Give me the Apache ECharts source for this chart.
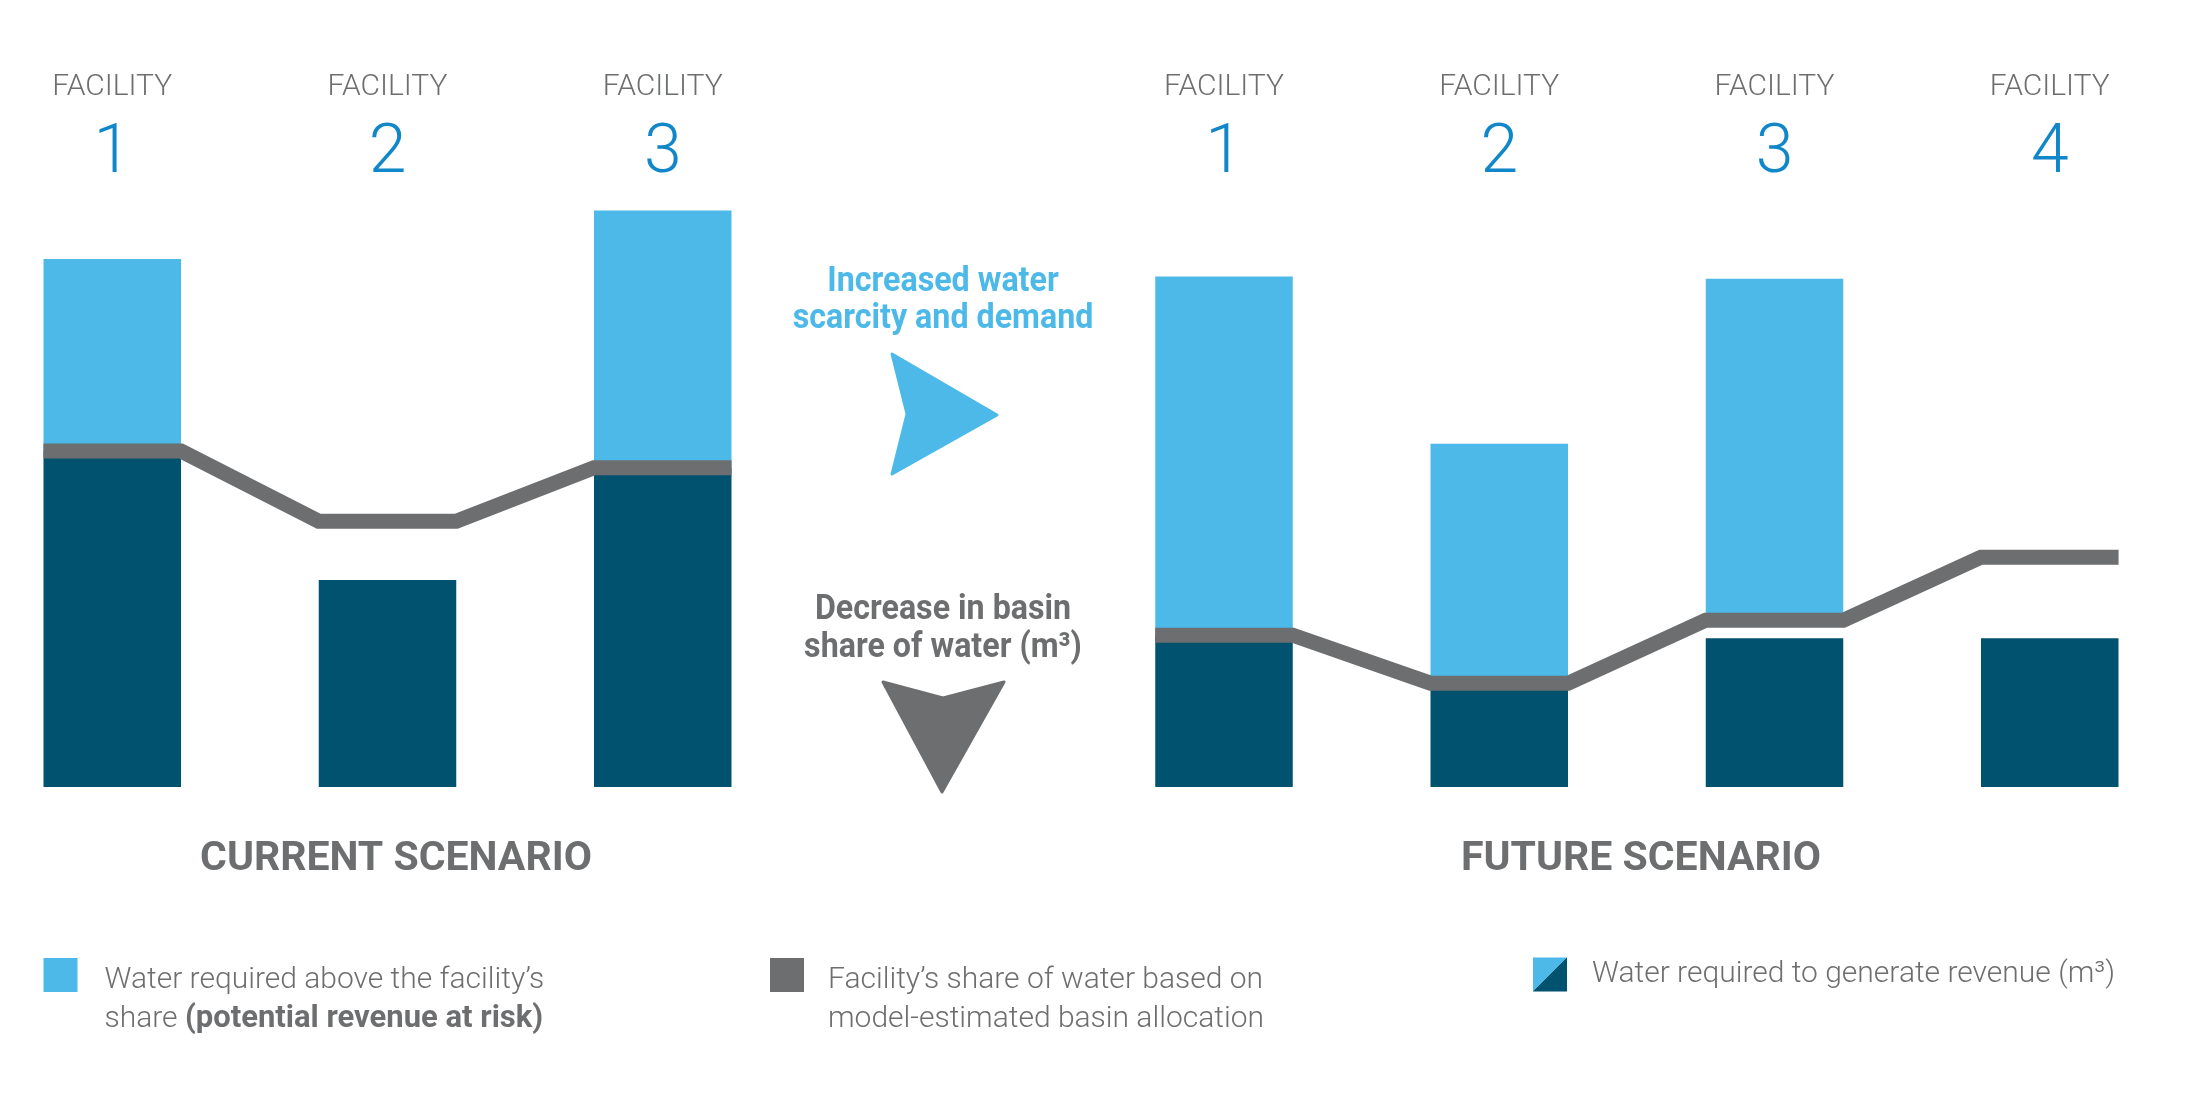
<!DOCTYPE html>
<html>
<head>
<meta charset="utf-8">
<title>Current vs future scenario</title>
<script src="https://cdn.jsdelivr.net/npm/echarts@6/dist/echarts.min.js"></script>
<style>
  html, body { margin: 0; padding: 0; background: #fff; }
  #chart { width: 2200px; height: 1100px; }
</style>
</head>
<body>
<div id="chart"></div>
<script>
const currentFacilities = ['1', '2', '3'];
const futureFacilities = ['1', '2', '3', '4'];

// water required to generate revenue (dark bars)
const currentRevenue = [56, 34.5, 53.2];
const futureRevenue = [25.3, 17.3, 24.8, 24.8];
// facility's share of water from the basin allocation (grey line)
const currentShare = [56, 44.3, 53.2];
const futureShare = [25.3, 17.3, 27.8, 38.3];
// top of the light bars, null where nothing is at risk
const currentRequired = [88, null, 96.1];
const futureRequired = [85.1, 57.2, 84.7, null];

const LIGHT = '#4cb9e9';
const DARK = '#00526f';
const GREY = '#6d6e70';
const NUM_BLUE = '#1187c9';

const riskName = 'Water required above the facility’s share (potential revenue at risk)';
const shareName = 'Facility’s share of water based on model-estimated basin allocation';
const revName = 'Water required to generate revenue (m³)';

const BAR_W = 137.5;
const STEP = 275.25;   // px between facility centres
const TOP = 187, HEIGHT = 600;

function riskBase(required, share) {
  return required.map((r, i) => r == null ? '-' : share[i]);
}
function riskPart(required, share) {
  return required.map((r, i) => r == null ? '-' : +(r - share[i]).toFixed(2));
}
// flat across each bar, sloped between bars
function shareSteps(share) {
  let pts = [];
  share.forEach((v, i) => { pts.push([i - 0.25, v], [i + 0.25, v]); });
  return pts;
}

function facilityAxis(gridIndex, cats) {
  return {
    type: 'category', gridIndex: gridIndex, data: cats, position: 'top', boundaryGap: false,
    axisLine: { show: false }, axisTick: { show: false }, splitLine: { show: false },
    axisLabel: {
      interval: 0, margin: 7,
      formatter: v => '{a|FACILITY}\n{b|' + v + '}',
      rich: {
        a: { fontFamily: 'Roboto', fontWeight: 300, fontSize: 30, color: GREY, lineHeight: 85, align: 'center' },
        b: { fontFamily: 'Roboto', fontWeight: 300, fontSize: 68, color: NUM_BLUE, lineHeight: 50, align: 'center' }
      }
    }
  };
}
// line grid runs from the left edge of the first bar to the right edge of the last
function stepAxis(gridIndex, n) {
  return { type: 'value', gridIndex: gridIndex, min: -0.25, max: n - 0.75, show: false };
}
function valueAxis(gridIndex) {
  return { type: 'value', gridIndex: gridIndex, min: 0, max: 100, show: false };
}

function scenarioSeries(barIdx, lineIdx, stackId, revenue, share, required) {
  return [
    { type: 'bar', name: revName, xAxisIndex: barIdx, yAxisIndex: barIdx, data: revenue, clip: false,
      barWidth: BAR_W, barGap: '-100%', itemStyle: { color: DARK }, z: 2 },
    { type: 'bar', xAxisIndex: barIdx, yAxisIndex: barIdx, stack: stackId, data: riskBase(required, share), clip: false,
      barWidth: BAR_W, barGap: '-100%', itemStyle: { color: 'rgba(0,0,0,0)' }, silent: true, z: 2 },
    { type: 'bar', name: riskName, xAxisIndex: barIdx, yAxisIndex: barIdx, stack: stackId, data: riskPart(required, share), clip: false,
      barWidth: BAR_W, barGap: '-100%', itemStyle: { color: LIGHT }, z: 2 },
    { type: 'line', name: shareName, xAxisIndex: lineIdx, yAxisIndex: lineIdx, data: shareSteps(share),
      symbol: 'none', lineStyle: { width: 15, color: GREY, join: 'miter', cap: 'butt' },
      itemStyle: { color: GREY }, z: 3 }
  ];
}

const legendText = { fontFamily: 'Roboto', fontWeight: 300, fontSize: 30, color: GREY, lineHeight: 39 };
const legendBold = { fontFamily: 'Roboto', fontWeight: 'bold', fontSize: 31, color: GREY, lineHeight: 39 };
const noteStyle = { fontFamily: 'Roboto', fontWeight: 'bold', fontSize: 35, align: 'center', verticalAlign: 'middle' };

const curLeft = 112.25, futLeft = 1224;

const chart = echarts.init(document.getElementById('chart'));
chart.setOption({
  animation: false,
  backgroundColor: '#fff',
  title: [
    { text: 'CURRENT SCENARIO', left: 396, top: 860, padding: 0, textAlign: 'center', textVerticalAlign: 'middle',
      textStyle: { fontFamily: 'Roboto', fontWeight: 'bold', fontSize: 41, color: GREY } },
    { text: 'FUTURE SCENARIO', left: 1641, top: 860, padding: 0, textAlign: 'center', textVerticalAlign: 'middle',
      textStyle: { fontFamily: 'Roboto', fontWeight: 'bold', fontSize: 41, color: GREY } }
  ],
  legend: [
    { left: 43.5, top: 958, padding: 0, itemWidth: 34, itemHeight: 34, selectedMode: false,
      data: [{ name: riskName, icon: 'rect', itemStyle: { color: LIGHT, borderWidth: 0 } }],
      formatter: () => '{t|Water required above the facility’s}\n{t|share }{b|(potential revenue at risk)}',
      textStyle: { padding: [50, 0, 0, 22], rich: { t: legendText, b: legendBold } } },
    { left: 770, top: 958, padding: 0, itemWidth: 34, itemHeight: 34, selectedMode: false,
      data: [{ name: shareName, icon: 'rect', itemStyle: { color: GREY, borderWidth: 0 } }],
      formatter: () => '{t|Facility’s share of water based on}\n{t|model-estimated basin allocation}',
      textStyle: { padding: [50, 0, 0, 19], rich: { t: legendText } } },
    { left: 1533, top: 957.5, padding: 0, itemWidth: 34, itemHeight: 34, selectedMode: false,
      data: [{ name: revName, icon: 'rect', itemStyle: { borderWidth: 0, color: {
        type: 'linear', x: 0, y: 0, x2: 1, y2: 1,
        colorStops: [{ offset: 0, color: LIGHT }, { offset: 0.5, color: LIGHT },
                     { offset: 0.5, color: DARK }, { offset: 1, color: DARK }] } } }],
      formatter: () => '{t|Water required to generate revenue (m³)}',
      textStyle: { padding: [0, 0, 0, 20], rich: { t: legendText } } }
  ],
  grid: [
    // bars: facility centres at grid edges
    { left: curLeft, top: TOP, width: STEP * (currentFacilities.length - 1), height: HEIGHT },
    { left: futLeft, top: TOP, width: STEP * (futureFacilities.length - 1), height: HEIGHT },
    // share line: bar edge to bar edge
    { left: curLeft - STEP / 4, top: TOP, width: STEP * (currentFacilities.length - 0.5), height: HEIGHT },
    { left: futLeft - STEP / 4, top: TOP, width: STEP * (futureFacilities.length - 0.5), height: HEIGHT }
  ],
  xAxis: [
    facilityAxis(0, currentFacilities),
    facilityAxis(1, futureFacilities),
    stepAxis(2, currentFacilities.length),
    stepAxis(3, futureFacilities.length)
  ],
  yAxis: [valueAxis(0), valueAxis(1), valueAxis(2), valueAxis(3)],
  series: [].concat(
    scenarioSeries(0, 2, 'current', currentRevenue, currentShare, currentRequired),
    scenarioSeries(1, 3, 'future', futureRevenue, futureShare, futureRequired)
  ),
  graphic: [
    { type: 'text', x: 943, y: 301, scaleX: 0.92, style: Object.assign({
        text: 'Increased water\nscarcity and demand', fill: LIGHT, lineHeight: 37 }, noteStyle) },
    { type: 'polygon', shape: { points: [[892, 354], [997, 415], [892, 474], [907, 414]] },
      style: { fill: LIGHT, lineJoin: 'round', stroke: LIGHT, lineWidth: 3 } },
    { type: 'text', x: 943, y: 629, scaleX: 0.92, style: Object.assign({
        text: 'Decrease in basin\nshare of water (m³)', fill: GREY, lineHeight: 38 }, noteStyle) },
    { type: 'polygon', shape: { points: [[883, 682], [943, 698], [1004, 682], [942, 792]] },
      style: { fill: GREY, lineJoin: 'round', stroke: GREY, lineWidth: 3 } }
  ]
});
</script>
</body>
</html>
